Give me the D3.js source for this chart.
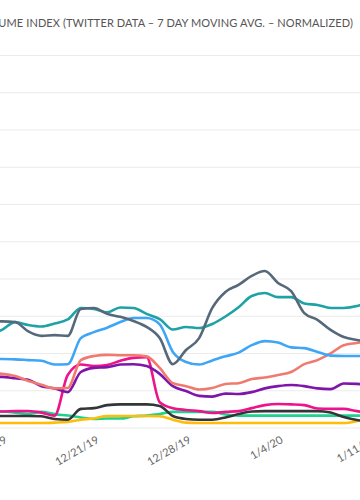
<!DOCTYPE html>
<html>
<head>
<meta charset="utf-8">
<title>Volume index</title>
<script src="https://cdn.jsdelivr.net/npm/d3@7"></script>
<style>
  body { margin: 0; background: #fff; }
  svg { display: block; font-family: Lato, "Open Sans", sans-serif; }
</style>
</head>
<body>
<script>
// data, one value per day (7 day moving avg, normalized 0-100)
var days = ["2019-12-13","2019-12-14","2019-12-15","2019-12-16","2019-12-17","2019-12-18","2019-12-19",
  "2019-12-20","2019-12-21","2019-12-22","2019-12-23","2019-12-24","2019-12-25","2019-12-26",
  "2019-12-27","2019-12-28","2019-12-29","2019-12-30","2019-12-31","2020-01-01","2020-01-02",
  "2020-01-03","2020-01-04","2020-01-05","2020-01-06","2020-01-07","2020-01-08","2020-01-09",
  "2020-01-10","2020-01-11"];

var tickDays = ["2019-12-14","2019-12-21","2019-12-28","2020-01-04","2020-01-11"];
var tickLabels = ["12/14/19","12/21/19","12/28/19","1/4/20","1/11/20"];

var teal    = [25.0,26.2,28.3,27.5,27.1,27.9,29.0,32.1,31.8,30.9,32.2,32.1,30.5,29.1,26.3,27.0,26.7,27.8,29.8,32.3,35.3,36.1,35.0,35.0,33.3,32.9,32.1,32.1,32.6,34.0];
var slate   = [28.5,28.5,28.3,25.8,24.6,24.8,24.6,31.8,32.1,30.5,29.7,28.6,27.0,24.0,17.0,20.8,24.0,32.1,36.4,38.3,40.7,42.0,38.8,36.6,30.7,28.9,26.2,24.3,23.5,23.0];
var blue    = [18.4,18.4,18.3,18.1,17.9,16.9,17.0,24.0,25.6,26.8,28.3,29.4,29.4,27.7,20.3,17.6,16.9,18.0,19.1,20.1,22.1,23.2,22.8,21.5,21.3,20.3,19.3,19.2,19.2,19.2];
var salmon  = [14.6,14.4,13.8,12.5,11.5,10.5,10.6,18.1,19.2,19.5,19.4,19.4,19.1,16.0,11.9,11.1,10.2,10.6,11.7,11.9,13.0,13.4,14.1,14.9,17.0,18.1,19.9,22.1,22.7,23.2];
var purple  = [13.5,13.6,13.2,12.8,11.1,10.5,9.5,14.9,16.0,16.2,16.9,17.0,16.5,14.4,11.1,9.8,8.5,8.3,9.1,9.0,9.5,10.5,11.1,11.4,11.1,10.5,10.3,11.8,11.7,11.4];
var magenta = [4.3,4.3,4.4,4.4,4.0,3.2,14.1,16.9,16.5,16.8,17.9,18.7,18.9,6.8,5.2,4.7,4.4,3.9,4.2,4.4,5.2,6.0,6.3,6.2,6.0,5.1,5.0,5.0,4.4,3.9];
var black   = [3.1,3.1,3.1,3.1,3.0,2.3,2.1,5.0,5.2,6.0,6.2,6.2,6.2,5.8,3.1,2.3,2.1,2.1,2.7,3.6,4.3,4.4,4.4,4.4,4.4,4.4,4.0,2.8,2.0,1.7];
var green   = [4.3,4.3,4.0,3.6,4.2,3.6,3.2,2.7,2.3,2.4,2.4,3.0,3.2,3.6,4.2,4.2,4.2,4.2,3.5,3.2,3.2,3.2,3.2,3.2,3.2,3.2,3.2,3.2,3.2,3.2];
var yellow  = [1.2,1.2,1.2,1.2,1.2,1.3,1.5,2.1,2.4,3.1,3.1,3.1,3.1,3.0,2.1,1.3,1.2,1.2,1.2,1.2,1.2,1.2,1.2,1.2,1.2,1.2,1.2,1.2,1.7,2.6];

var series = [
  {name: "green",   values: green,   color: "#1dd28c"},
  {name: "yellow",  values: yellow,  color: "#ffbd0a"},
  {name: "black",   values: black,   color: "#343538"},
  {name: "magenta", values: magenta, color: "#ec138b"},
  {name: "purple",  values: purple,  color: "#7f16aa"},
  {name: "salmon",  values: salmon,  color: "#f07a70"},
  {name: "blue",    values: blue,    color: "#3fa6f5"},
  {name: "teal",    values: teal,    color: "#1fa2a5"},
  {name: "slate",   values: slate,   color: "#56697a"}
];

var width = 360, height = 500;
var parse = d3.utcParse("%Y-%m-%d");

var svg = d3.select("body").append("svg")
  .attr("width", width)
  .attr("height", height);

var x = d3.scaleUtc()
  .domain([parse("2019-12-14"), parse("2020-01-11")])
  .range([2, 370]);

var y = d3.scaleLinear()
  .domain([0, 100])
  .range([427.5, 55]);

// title (left part runs off the page like in the original)
svg.append("text")
  .attr("x", 353)
  .attr("y", 27)
  .attr("text-anchor", "end")
  .attr("fill", "#555")
  .style("font-size", "11px")
  .style("letter-spacing", "0.1px")
  .text("VOLUME INDEX (TWITTER DATA \u2013 7 DAY MOVING AVG. \u2013 NORMALIZED)");

// grid
var grid = svg.append("g")
  .call(d3.axisLeft(y).ticks(10).tickSize(-width - 20).tickFormat(""));
grid.select(".domain").remove();
grid.selectAll("line").attr("stroke", "#ebebeb").attr("stroke-width", 1.2);

// x labels
var xAxis = svg.append("g")
  .attr("transform", "translate(0," + 437 + ")")
  .call(d3.axisBottom(x)
    .tickValues(tickDays.map(parse))
    .tickSize(0)
    .tickFormat(function(d, i) { return tickLabels[i]; }));
xAxis.select(".domain").remove();
xAxis.selectAll("text")
  .attr("fill", "#666")
  .style("font-size", "11px")
  .style("font-family", "Lato, sans-serif")
  .attr("text-anchor", "end")
  .attr("dy", "0.35em")
  .attr("y", 3)
  .attr("x", 2)
  .attr("transform", "rotate(-30)");

var line = d3.line()
  .x(function(d, i) { return x(parse(days[i])); })
  .y(function(d) { return y(d); })
  .curve(d3.curveMonotoneX);

svg.selectAll("path.series")
  .data(series)
  .enter()
  .append("path")
  .attr("class", "series")
  .attr("fill", "none")
  .attr("stroke", function(d) { return d.color; })
  .attr("stroke-width", 2.6)
  .attr("stroke-linejoin", "round")
  .attr("d", function(d) { return line(d.values); });
</script>
</body>
</html>
